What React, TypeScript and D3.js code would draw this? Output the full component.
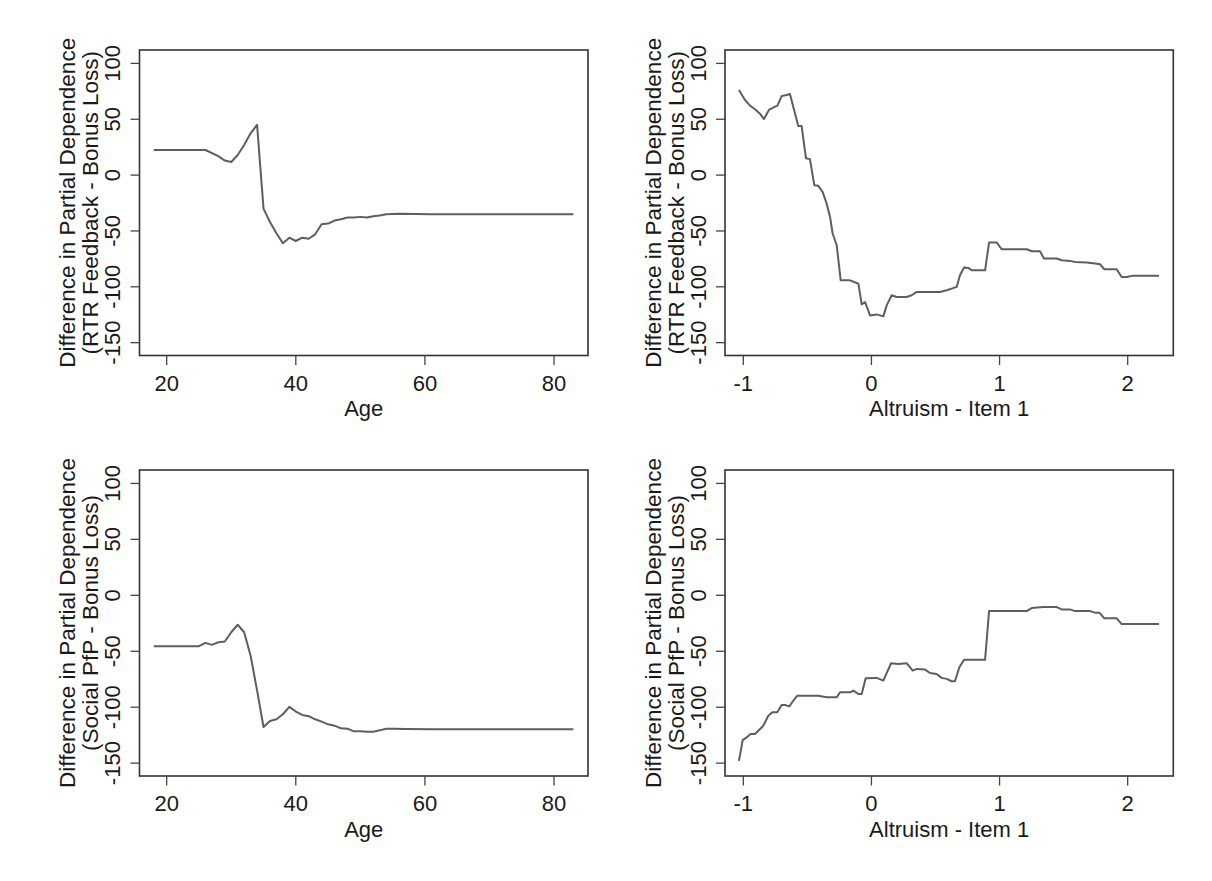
import React, { useEffect } from "react";
import * as d3 from "d3";

// ---------- Data ----------
const ageTicks = [20, 40, 60, 80];
const altTicks = [-1, 0, 1, 2];
const yTicks = [-150, -100, -50, 0, 50, 100];

const rtrAgeX = [18, 26, 28, 29, 30, 31, 32, 33, 34, 35, 36, 37, 38, 39, 40, 41, 42, 43, 44, 45, 46, 47, 48, 49, 50, 51, 52, 53, 54, 56, 61, 83];
const rtrAgeY = [22.5, 22.5, 17, 13, 11.7, 18, 27, 37.4, 45, -30, -42, -52, -61, -56, -59, -56, -57, -53, -44, -43.4, -40.7, -39.5, -38, -38, -37.4, -38, -36.8, -36.2, -35, -34.7, -35, -35];

const socAgeX = [18, 25, 26, 27, 28, 29, 30, 31, 32, 33, 34, 35, 36, 37, 38, 39, 40, 41, 42, 43, 44, 45, 46, 47, 48, 49, 50, 51, 52, 53, 54, 55, 57, 61, 83];
const socAgeY = [-45.5, -45.5, -42.5, -44.3, -42, -41.3, -33, -26.3, -33, -54, -85, -117.7, -112.3, -110.8, -106.3, -99.7, -103.9, -106.9, -108, -110.8, -112.9, -115.3, -116.5, -118.9, -119.2, -121.6, -121.6, -121.9, -121.9, -120.7, -119.2, -119.2, -119.5, -119.8, -119.8];

const rtrAltX = [-1.034, -0.987, -0.953, -0.909, -0.87, -0.839, -0.8, -0.753, -0.735, -0.7, -0.662, -0.636, -0.597, -0.571, -0.545, -0.511, -0.48, -0.446, -0.415, -0.381, -0.35, -0.323, -0.303, -0.271, -0.24, -0.167, -0.115, -0.102, -0.076, -0.05, -0.011, 0.041, 0.067, 0.093, 0.119, 0.158, 0.197, 0.275, 0.314, 0.353, 0.405, 0.535, 0.587, 0.626, 0.665, 0.691, 0.723, 0.756, 0.782, 0.887, 0.918, 0.978, 1.017, 1.212, 1.251, 1.316, 1.347, 1.446, 1.485, 1.55, 1.589, 1.68, 1.745, 1.784, 1.818, 1.914, 1.953, 1.992, 2.044, 2.245];
const rtrAltY = [76.2, 67.3, 62.8, 58.9, 55, 50.2, 58.3, 61.3, 62, 70.9, 71.7, 72.6, 55.3, 44, 44, 15, 14.3, -9, -9.6, -15, -25.4, -37.4, -52.3, -62.8, -94.2, -94.2, -96.6, -97.2, -115.7, -113.6, -125.6, -124.7, -125.6, -126.5, -116.6, -107.6, -109.1, -109.1, -107.6, -104.6, -104.6, -104.6, -103.1, -101.6, -100.1, -89.7, -82.8, -83.1, -85.2, -85.2, -60.4, -60.4, -66.4, -66.4, -68.2, -68.2, -74.7, -74.7, -76.2, -76.8, -77.7, -78.3, -79.2, -79.8, -84.3, -84.3, -91.2, -91.2, -90, -90];

const socAltX = [-1.034, -1.005, -0.974, -0.943, -0.909, -0.883, -0.844, -0.805, -0.774, -0.735, -0.701, -0.675, -0.641, -0.61, -0.578, -0.415, -0.349, -0.271, -0.245, -0.167, -0.141, -0.102, -0.076, -0.045, 0.041, 0.093, 0.153, 0.21, 0.275, 0.322, 0.353, 0.418, 0.457, 0.509, 0.548, 0.587, 0.626, 0.652, 0.686, 0.723, 0.887, 0.918, 1.212, 1.251, 1.342, 1.446, 1.485, 1.55, 1.589, 1.706, 1.745, 1.779, 1.818, 1.914, 1.953, 2.245];
const socAltY = [-148, -129.4, -127, -124, -124, -121, -116.6, -107.6, -104.6, -104.6, -98, -98, -99.3, -94.2, -89.7, -89.7, -91.2, -91.2, -86.7, -86.7, -85.2, -88.2, -88.2, -74.1, -73.8, -76.2, -60.7, -61.3, -60.7, -67.3, -65.8, -66.4, -69.4, -70.3, -73.8, -74.7, -76.8, -76.8, -64.3, -57.7, -57.7, -14.1, -14.1, -11.4, -10.5, -10.5, -12.6, -12.6, -14.1, -14.1, -15.5, -15.5, -20.6, -20.6, -25.7, -25.7];

const yTitleLine1 = "Difference in Partial Dependence";
const ageLabel = "Age";
const altLabel = "Altruism - Item 1";

// ---------- Layout ----------
const W = 1212;
const H = 881;
const FONT = "'Liberation Sans', Arial, sans-serif";
const TEXT = "#1a1a1a";

type PanelProps = {
  left: number; right: number; top: number; bottom: number;
  xDomain: [number, number]; xTicks: number[]; xLabel: string;
  xs: number[]; ys: number[]; yLine2: string;
};

function Panel(p: PanelProps) {
  const x = d3.scaleLinear().domain(p.xDomain).range([p.left, p.right]);
  const y = d3.scaleLinear().domain([-161.5, 112]).range([p.bottom, p.top]);
  const pts: [number, number][] = p.xs.map((v, i) => [v, p.ys[i]]);
  const line = d3.line<[number, number]>().x(d => x(d[0])).y(d => y(d[1]));
  const cy = (p.top + p.bottom) / 2;
  return (
    <g>
      <path d={line(pts) || ""} fill="none" stroke="#5e5e5e" strokeWidth={2} strokeLinejoin="round" />
      <rect x={p.left} y={p.top} width={p.right - p.left} height={p.bottom - p.top} fill="none" stroke="#333" strokeWidth={1.6} />
      {p.xTicks.map(t => (
        <g key={"x" + t}>
          <line x1={x(t)} x2={x(t)} y1={p.bottom} y2={p.bottom + 9.5} stroke="#444" strokeWidth={1.3} />
          <text x={x(t)} y={p.bottom + 35} textAnchor="middle" fontSize={22} fontFamily={FONT} fill={TEXT}>{t < 0 ? "-" + Math.abs(t) : String(t)}</text>
        </g>
      ))}
      <text x={(p.left + p.right) / 2} y={p.bottom + 60.5} textAnchor="middle" fontSize={22} fontFamily={FONT} fill={TEXT}>{p.xLabel}</text>
      {yTicks.map(t => (
        <g key={"y" + t}>
          <line x1={p.left - 9} x2={p.left} y1={y(t)} y2={y(t)} stroke="#444" strokeWidth={1.3} />
          <text transform={`translate(${p.left - 19.5},${y(t)}) rotate(-90)`} textAnchor="middle" fontSize={22} fontFamily={FONT} fill={TEXT}>{t < 0 ? "-" + Math.abs(t) : String(t)}</text>
        </g>
      ))}
      <text transform={`translate(${p.left - 64.5},${cy}) rotate(-90)`} textAnchor="middle" fontSize={22.5} fontFamily={FONT} fill={TEXT}>{yTitleLine1}</text>
      <text transform={`translate(${p.left - 41.5},${cy}) rotate(-90)`} textAnchor="middle" fontSize={22.5} fontFamily={FONT} fill={TEXT}>{p.yLine2}</text>
    </g>
  );
}

export default function App() {
  useEffect(() => {
    document.body.style.margin = "0";
  }, []);
  const ageDomain: [number, number] = [15.79, 85.26];
  const altDomain: [number, number] = [-1.143, 2.356];
  const L1 = 139.5, R1 = 588, L2 = 725, R2 = 1173.3;
  const T1 = 50, B1 = 355.5, T2 = 470, B2 = 776;
  return (
    <svg width={W} height={H} style={{ display: "block", position: "absolute", left: 0, top: 0, background: "#fff" }}>
      <rect x={0} y={0} width={W} height={H} fill="#fff" />
      <Panel left={L1} right={R1} top={T1} bottom={B1} xDomain={ageDomain} xTicks={ageTicks} xLabel={ageLabel} xs={rtrAgeX} ys={rtrAgeY} yLine2="(RTR Feedback - Bonus Loss)" />
      <Panel left={L2} right={R2} top={T1} bottom={B1} xDomain={altDomain} xTicks={altTicks} xLabel={altLabel} xs={rtrAltX} ys={rtrAltY} yLine2="(RTR Feedback - Bonus Loss)" />
      <Panel left={L1} right={R1} top={T2} bottom={B2} xDomain={ageDomain} xTicks={ageTicks} xLabel={ageLabel} xs={socAgeX} ys={socAgeY} yLine2="(Social PfP - Bonus Loss)" />
      <Panel left={L2} right={R2} top={T2} bottom={B2} xDomain={altDomain} xTicks={altTicks} xLabel={altLabel} xs={socAltX} ys={socAltY} yLine2="(Social PfP - Bonus Loss)" />
    </svg>
  );
}
